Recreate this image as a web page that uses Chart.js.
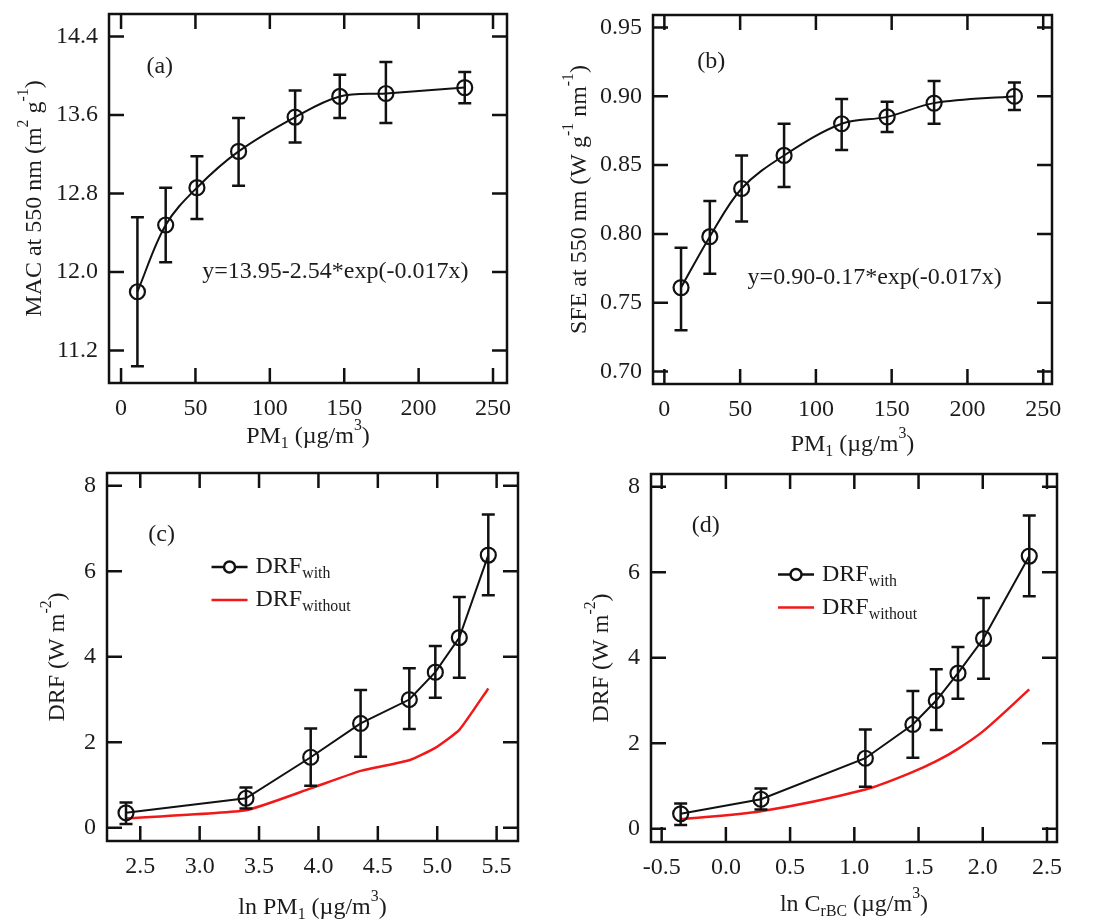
<!DOCTYPE html>
<html>
<head>
<meta charset="utf-8">
<script src="https://cdn.jsdelivr.net/npm/chart.js@4"></script>
<style>
    body { margin: 0; background: #fff; }
    .panel { position: absolute; }
</style>
</head>
<body>
<div class="panel" style="left:0;top:0;width:545px;height:460px"><canvas id="ca"></canvas></div>
<div class="panel" style="left:545px;top:0;width:558px;height:460px"><canvas id="cb"></canvas></div>
<div class="panel" style="left:0;top:460px;width:545px;height:462px"><canvas id="cc"></canvas></div>
<div class="panel" style="left:545px;top:460px;width:558px;height:462px"><canvas id="cd"></canvas></div>
<script>
// PM1 bins (ug/m3)
const pm1 = [11, 30, 51, 79, 117, 147, 178, 231]

// (a) MAC at 550 nm
const mac = [11.80, 12.48, 12.86, 13.23, 13.58, 13.79, 13.82, 13.88]
const macHi = [12.56, 12.86, 13.18, 13.57, 13.85, 14.01, 14.14, 14.04]
const macLo = [11.04, 12.10, 12.54, 12.88, 13.32, 13.57, 13.52, 13.72]

// (b) SFE at 550 nm
const sfe = [0.761, 0.798, 0.833, 0.857, 0.880, 0.885, 0.895, 0.900]
const sfeHi = [0.790, 0.824, 0.857, 0.880, 0.898, 0.896, 0.911, 0.910]
const sfeLo = [0.730, 0.771, 0.809, 0.834, 0.861, 0.874, 0.880, 0.890]

// (c),(d) DRF
const lnPm1 = [2.38, 3.39, 3.935, 4.355, 4.765, 4.984, 5.186, 5.43]
const lnRbc = [-0.352, 0.273, 1.086, 1.456, 1.638, 1.807, 2.006, 2.362]
const drfWith = [0.35, 0.69, 1.65, 2.44, 3.00, 3.64, 4.45, 6.38]
const drfHi = [0.59, 0.94, 2.32, 3.22, 3.73, 4.25, 5.40, 7.33]
const drfLo = [0.09, 0.45, 0.98, 1.66, 2.31, 3.04, 3.51, 5.44]
const drfWithout = [0.22, 0.41, 0.92, 1.33, 1.58, 1.87, 2.29, 3.26]

// tick labels
const pmTicks = ['0', '50', '100', '150', '200', '250']
const macTicks = ['11.2', '12.0', '12.8', '13.6', '14.4']
const sfeTicks = ['0.70', '0.75', '0.80', '0.85', '0.90', '0.95']
const drfTicks = ['0', '2', '4', '6', '8']
const lnPmTicks = ['2.5', '3.0', '3.5', '4.0', '4.5', '5.0', '5.5']
const lnRbcTicks = ['-0.5', '0.0', '0.5', '1.0', '1.5', '2.0', '2.5']

const SERIF = '"Liberation Serif", "Times New Roman", serif'
const TXT = '#1c1c1c'
const FS = 24

// draw text made of segments: {t, s: 'sup' | 'sub' | undefined}
function richWidth(ctx, segs, size) {
    let w = 0
    segs.forEach(g => {
        ctx.font = (g.s ? size * 0.66 : size) + 'px ' + SERIF
        w += ctx.measureText(g.t).width
    })
    return w
}
function drawRich(ctx, segs, size, cx, cy, rotate) {
    ctx.save()
    ctx.translate(cx, cy)
    if (rotate) ctx.rotate(-Math.PI / 2)
    ctx.fillStyle = TXT
    ctx.textBaseline = 'middle'
    ctx.textAlign = 'left'
    let x = -richWidth(ctx, segs, size) / 2
    segs.forEach(g => {
        const sz = g.s ? size * 0.66 : size
        ctx.font = sz + 'px ' + SERIF
        let dy = 0
        if (g.s === 'sup') dy = -size * 0.45
        if (g.s === 'sub') dy = size * 0.3
        ctx.fillText(g.t, x, dy)
        x += ctx.measureText(g.t).width
    })
    ctx.restore()
}

const framePlugin = {
    id: 'frame',
    afterDraw(chart) {
        const { ctx, chartArea: a, scales } = chart
        const o = chart.options.plugins.frame
        const L = 15
        ctx.save()
        ctx.strokeStyle = '#111'
        ctx.lineWidth = 2.5
        ctx.strokeRect(a.left, a.top, a.right - a.left, a.bottom - a.top)
        ctx.beginPath()
        scales.x.ticks.forEach(t => {
            const px = scales.x.getPixelForValue(t.value)
            ctx.moveTo(px, a.bottom); ctx.lineTo(px, a.bottom - L)
            ctx.moveTo(px, a.top); ctx.lineTo(px, a.top + L)
        })
        scales.y.ticks.forEach(t => {
            const py = scales.y.getPixelForValue(t.value)
            ctx.moveTo(a.left, py); ctx.lineTo(a.left + L, py)
            ctx.moveTo(a.right, py); ctx.lineTo(a.right - L, py)
        })
        ctx.stroke()

        // error bars
        if (o.err) {
            ctx.lineWidth = 2.5
            ctx.beginPath()
            o.err.x.forEach((xv, i) => {
                const px = scales.x.getPixelForValue(xv)
                const hi = scales.y.getPixelForValue(o.err.hi[i])
                const lo = scales.y.getPixelForValue(o.err.lo[i])
                ctx.moveTo(px, hi); ctx.lineTo(px, lo)
                ctx.moveTo(px - 6.5, hi); ctx.lineTo(px + 6.5, hi)
                ctx.moveTo(px - 6.5, lo); ctx.lineTo(px + 6.5, lo)
            })
            ctx.stroke()
        }

        // panel label and equation
        ctx.fillStyle = TXT
        ctx.textAlign = 'center'
        ctx.textBaseline = 'middle'
        ctx.font = FS + 'px ' + SERIF
        ctx.fillText(o.tag[0], scales.x.getPixelForValue(o.tag[1]), scales.y.getPixelForValue(o.tag[2]))
        if (o.eq) {
            ctx.fillText(o.eq[0], scales.x.getPixelForValue(o.eq[1]), scales.y.getPixelForValue(o.eq[2]))
        }

        // axis titles
        drawRich(ctx, o.ytitle, FS, o.ytitleX, (a.top + a.bottom) / 2, true)
        drawRich(ctx, o.xtitle, FS, (a.left + a.right) / 2, o.xtitleY, false)

        // legend
        if (o.legend) {
            const lx = scales.x.getPixelForValue(o.legend[0])
            const ly = scales.y.getPixelForValue(o.legend[1])
            ctx.lineWidth = 2.5
            ctx.strokeStyle = '#111'
            ctx.beginPath(); ctx.moveTo(lx, ly); ctx.lineTo(lx + 36, ly); ctx.stroke()
            ctx.fillStyle = '#fff'
            ctx.beginPath(); ctx.arc(lx + 18, ly, 5.5, 0, Math.PI * 2); ctx.fill(); ctx.stroke()
            ctx.strokeStyle = '#f01818'
            ctx.beginPath(); ctx.moveTo(lx, ly + 33); ctx.lineTo(lx + 36, ly + 33); ctx.stroke()
            const row = (segs, y) => {
                const w = richWidth(ctx, segs, FS)
                drawRich(ctx, segs, FS, lx + 44 + w / 2, y, false)
            }
            row([{ t: 'DRF' }, { t: 'with', s: 'sub' }], ly)
            row([{ t: 'DRF' }, { t: 'without', s: 'sub' }], ly + 33)
        }
        ctx.restore()
    }
}

function scaleOpts(min, max, labels, fit, isX) {
    return {
        type: 'linear',
        min: min,
        max: max,
        afterBuildTicks: s => { s.ticks = labels.map(v => ({ value: parseFloat(v) })) },
        afterFit: s => {
            if (isX) s.height = fit; else s.width = fit
            s.paddingTop = 0; s.paddingBottom = 0; s.paddingLeft = 0; s.paddingRight = 0
        },
        grid: { display: false, drawTicks: false },
        border: { display: false },
        ticks: {
            color: TXT,
            padding: 11,
            font: { family: SERIF, size: FS },
            callback: (v, i) => labels[i]
        }
    }
}

function makePanel(id, p) {
    const datasets = [{
        data: p.x.map((v, i) => ({ x: v, y: p.y[i] })),
        borderColor: '#111',
        borderWidth: 2,
        pointRadius: 7.5,
        pointBorderWidth: 2.2,
        pointBackgroundColor: 'rgba(255,255,255,0)',
        pointBorderColor: '#111',
        tension: p.smooth ? 0.35 : 0,
        order: 1
    }]
    if (p.red) {
        datasets.push({
            data: p.x.map((v, i) => ({ x: v, y: p.red[i] })),
            borderColor: '#f01818',
            borderWidth: 2.5,
            pointRadius: 0,
            tension: p.redTension,
            order: 2
        })
    }
    return new Chart(document.getElementById(id), {
        type: 'line',
        data: { datasets },
        options: {
            responsive: true,
            maintainAspectRatio: false,
            animation: false,
            layout: { padding: p.pad },
            plugins: {
                legend: { display: false },
                tooltip: { enabled: false },
                frame: p.frame
            },
            scales: {
                x: scaleOpts(p.xr[0], p.xr[1], p.xt, p.xh, true),
                y: scaleOpts(p.yr[0], p.yr[1], p.yt, p.yw, false)
            }
        },
        plugins: [framePlugin]
    })
}

makePanel('ca', {
    x: pm1, y: mac, smooth: true,
    xr: [-8.1, 259.4], yr: [10.87, 14.63], xt: pmTicks, yt: macTicks,
    pad: { left: 0, right: 38, top: 14, bottom: 0 }, xh: 77, yw: 109,
    frame: {
        err: { x: pm1, hi: macHi, lo: macLo },
        tag: ['(a)', 26, 14.09],
        eq: ['y=13.95-2.54*exp(-0.017x)', 144, 12.0],
        ytitle: [{ t: 'MAC at 550 nm (m' }, { t: '2', s: 'sup' }, { t: ' g' }, { t: '-1', s: 'sup' }, { t: ')' }],
        ytitleX: 35,
        xtitle: [{ t: 'PM' }, { t: '1', s: 'sub' }, { t: ' (µg/m' }, { t: '3', s: 'sup' }, { t: ')' }],
        xtitleY: 437
    }
})

makePanel('cb', {
    x: pm1, y: sfe, smooth: true,
    xr: [-7.5, 255.8], yr: [0.691, 0.959], xt: pmTicks, yt: sfeTicks,
    pad: { left: 0, right: 51, top: 15, bottom: 0 }, xh: 76, yw: 108,
    frame: {
        err: { x: pm1, hi: sfeHi, lo: sfeLo },
        tag: ['(b)', 31, 0.925],
        eq: ['y=0.90-0.17*exp(-0.017x)', 138.8, 0.768],
        ytitle: [{ t: 'SFE at 550 nm (W g' }, { t: '-1', s: 'sup' }, { t: ' nm' }, { t: '-1', s: 'sup' }, { t: ')' }],
        ytitleX: 35,
        xtitle: [{ t: 'PM' }, { t: '1', s: 'sub' }, { t: ' (µg/m' }, { t: '3', s: 'sup' }, { t: ')' }],
        xtitleY: 445
    }
})

makePanel('cc', {
    x: lnPm1, y: drfWith, red: drfWithout, smooth: false, redTension: 0.15,
    xr: [2.22, 5.68], yr: [-0.31, 8.30], xt: lnPmTicks, yt: drfTicks,
    pad: { left: 0, right: 27, top: 13, bottom: 0 }, xh: 81, yw: 107,
    frame: {
        err: { x: lnPm1, hi: drfHi, lo: drfLo },
        tag: ['(c)', 2.68, 6.85],
        legend: [3.10, 6.1],
        ytitle: [{ t: 'DRF (W m' }, { t: '-2', s: 'sup' }, { t: ')' }],
        ytitleX: 58,
        xtitle: [{ t: 'ln PM' }, { t: '1', s: 'sub' }, { t: ' (µg/m' }, { t: '3', s: 'sup' }, { t: ')' }],
        xtitleY: 448
    }
})

makePanel('cd', {
    x: lnRbc, y: drfWith, red: drfWithout, smooth: false, redTension: 0.3,
    xr: [-0.583, 2.578], yr: [-0.31, 8.30], xt: lnRbcTicks, yt: drfTicks,
    pad: { left: 0, right: 46, top: 14, bottom: 0 }, xh: 80, yw: 106,
    frame: {
        err: { x: lnRbc, hi: drfHi, lo: drfLo },
        tag: ['(d)', -0.157, 7.08],
        legend: [0.406, 5.95],
        ytitle: [{ t: 'DRF (W m' }, { t: '-2', s: 'sup' }, { t: ')' }],
        ytitleX: 57,
        xtitle: [{ t: 'ln C' }, { t: 'rBC', s: 'sub' }, { t: ' (µg/m' }, { t: '3', s: 'sup' }, { t: ')' }],
        xtitleY: 445
    }
})
</script>
</body>
</html>
